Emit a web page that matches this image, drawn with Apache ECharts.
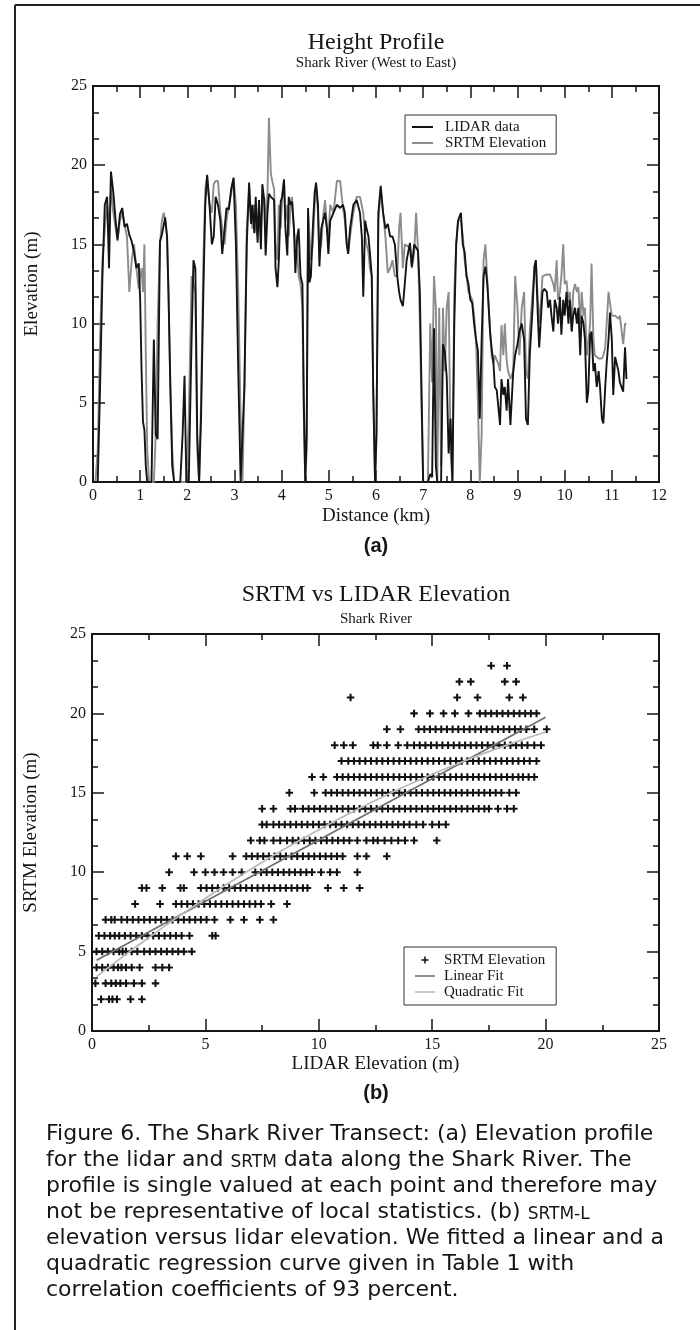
<!DOCTYPE html>
<html>
<head>
<meta charset="utf-8">
<script src="https://cdn.jsdelivr.net/npm/echarts@6/dist/echarts.min.js"></script>
<style>
html,body{margin:0;padding:0;background:#ffffff;}
#chart{width:700px;height:1330px;}
</style>
</head>
<body>
<div id="chart"></div>
<script>
// ---------------- (a) Height profile data ----------------
const distanceKm = [
  0.00,0.05,0.10,0.15,0.20,0.25,0.30,0.34,0.38,0.43,
  0.48,0.52,0.57,0.62,0.67,0.72,0.77,0.82,0.87,0.92,
  0.97,1.00,1.03,1.06,1.09,1.12,1.15,1.19,1.24,1.29,
  1.33,1.37,1.42,1.46,1.50,1.53,1.57,1.60,1.64,1.68,
  1.72,1.78,1.85,1.90,1.94,1.98,2.03,2.09,2.13,2.17,
  2.21,2.25,2.29,2.34,2.38,2.42,2.47,2.52,2.56,2.60,
  2.65,2.70,2.74,2.79,2.83,2.88,2.93,2.98,3.03,3.08,
  3.13,3.17,3.21,3.26,3.31,3.35,3.38,3.42,3.45,3.49,
  3.52,3.56,3.59,3.63,3.66,3.70,3.73,3.77,3.80,3.84,
  3.87,3.91,3.94,3.98,4.01,4.05,4.08,4.12,4.15,4.19,
  4.22,4.26,4.29,4.33,4.36,4.40,4.44,4.47,4.50,4.53,
  4.56,4.59,4.62,4.66,4.70,4.73,4.77,4.80,4.84,4.88,
  4.92,4.96,4.99,5.03,5.10,5.17,5.24,5.30,5.34,5.38,
  5.41,5.45,5.52,5.59,5.66,5.70,5.73,5.77,5.80,5.84,
  5.87,5.91,5.94,5.98,6.01,6.05,6.10,6.15,6.20,6.25,
  6.30,6.35,6.40,6.45,6.49,6.52,6.57,6.61,6.65,6.72,
  6.76,6.81,6.85,6.89,6.93,6.97,7.00,7.05,7.10,7.15,
  7.19,7.23,7.27,7.30,7.34,7.38,7.42,7.46,7.50,7.54,
  7.58,7.62,7.66,7.70,7.74,7.80,7.84,7.88,7.92,7.96,
  8.00,8.04,8.08,8.12,8.16,8.20,8.24,8.28,8.32,8.36,
  8.39,8.42,8.45,8.49,8.52,8.56,8.59,8.63,8.66,8.70,
  8.73,8.77,8.80,8.85,8.91,8.95,9.00,9.04,9.09,9.14,
  9.18,9.22,9.26,9.32,9.36,9.39,9.43,9.46,9.51,9.53,
  9.57,9.62,9.65,9.69,9.72,9.76,9.79,9.83,9.86,9.90,
  9.93,9.97,10.00,10.04,10.08,10.11,10.15,10.18,10.22,10.26,
  10.29,10.33,10.36,10.40,10.43,10.47,10.50,10.54,10.57,10.61,
  10.64,10.68,10.72,10.75,10.79,10.82,10.86,10.89,10.93,10.96,
  11.00,11.03,11.07,11.10,11.14,11.17,11.21,11.24,11.28,11.31
];
const lidarProfile = [
  0,0,0,6,13,17.5,18,13.5,19.6,18.3,
  16.5,15.3,16.9,17.3,16.1,16.3,15.6,15.2,14.5,13.5,
  13.8,11.5,7,3.8,3.3,1,0,0,0,9,
  3,2.7,15.2,15.6,15.5,16.7,15.5,12,6,1,
  0,0,0,3,6.7,0,0,9,14,13.5,
  3,0,4,12,17.5,19.4,17.5,15,15.5,18,
  17.5,16.5,14.4,16,17.3,17.2,18.5,19.2,15,7,
  0,0,6,15,18.9,16.3,17.5,15.7,18,15.1,
  17.8,14.7,18.8,17.8,14.3,17,18.2,18,18,17.8,
  13.5,12.3,14,17.7,18,19.1,16,14.3,18,17.5,
  17.7,16,13.2,15.5,16,13,12.5,5,0,3,
  17.3,12.6,13,16,18.3,18.9,17.5,13.6,16,16.5,
  17,16,14.4,16.5,17,17.5,17.3,17.5,17,15,
  14.4,16,17.5,17.8,17,15.5,11.7,16.5,16,15.5,
  14.5,13,6,0,3,17,18.7,17,16,16.3,
  15.5,15.5,15,13,12,11.5,11.1,12.5,14,15.1,
  13.6,15,15,14.6,12,5,0,0,0,0.5,
  0.3,9.7,1,0,0,0,8.7,8.2,6.6,1.8,
  4,0,10,15,16.5,17,15,14.5,13,12.5,
  11.5,11.3,10,9,8.3,4,9,13,13.6,12.5,
  11,9.4,8.5,7.5,6,5.8,5.7,3.6,6.5,5.5,
  6,4.5,6.5,3.6,7,8,8.7,9.5,10,9,
  4,3.6,8,11,13.6,14,10.6,8.5,11,12,
  12.2,12,11,11.5,10.5,9.5,11.5,11,10,11.7,
  9.3,11.5,10.5,12,10,11.5,9.5,10.5,11,10,
  11,8,10.5,10,9,5,5.7,9.3,9.5,7,
  7.5,6,7,6,4,3.7,6,7.5,9,10.7,
  9,5.5,7.9,7.8,7,6.3,6.2,5.7,8.5,6.5
];
const srtmProfile = [
  0,0,2,9,14,16,17.5,16,18.5,17,
  16,15.2,16.5,17,16.2,15.5,12,14,15,13.5,
  12.2,13,13.5,12,15,8,2,0,0,0,
  3,10,15,16.5,17,16.5,15.5,12,6,2,
  0,0,0,0,0,0,4,13,13,12,
  2,0,5,14,18.5,19.3,17.5,17,18.8,19,
  19,17,16,15,16.5,17.5,18.2,19.2,17.5,12,
  4,0,6,16,18.5,17,16,17.5,16,15.5,
  17,16,17.5,18,16,18.3,23,19.5,19,18.5,
  15,14,17.5,16,18,19,16.5,17.5,15.5,17.5,
  18,16,15,14.5,13,12.5,11,4,0,2,
  17,15.5,14,15,17.5,18.7,17,14.5,15,16.8,
  17.8,16,15.5,17.5,17,19,19,17.3,16.5,15,
  14.5,15.5,17,18,18,18,17,15.5,15,14.5,
  13.5,13,6,0,3,16.5,18.5,17,15.5,13.2,
  13.5,14,13,13,16,17,13.5,15,15,14.8,
  13.5,14.5,17,14.7,10,4,0,0,0,10,
  6.3,13,11,0,11,1,11,7,11,12,
  2,0,12,15,16.5,16.5,15.5,14,13,12,
  12,11.5,10.5,9,5,0,3,14,15,15,
  11,9.5,8,7.5,8,7.7,7.5,7,9.9,8,
  10,7.7,7,6.5,7,13,11,8,11,12,
  7,6.5,9.5,12,13.5,14,11.5,10,12,13,
  13.1,13.1,13.1,13.1,13.1,12.5,12,14,11.5,12,
  13,15,12.5,12.7,11.3,12,9.5,12,12.5,12,
  12.3,10,12,10.5,11,8,8,10,13.8,9,
  8,8,7.8,7.8,7.8,8,8.5,10,12,11.3,
  10.5,10.5,10.5,10.5,10.3,10.5,9.5,8.7,10,10
];

// ---------------- (b) SRTM vs LIDAR scatter data ----------------
// SRTM elevations are integer-valued rows; each row lists the LIDAR elevations
const srtmLevels = [2,3,4,5,6,7,8,9,10,11,12,13,14,15,16,17,18,19,20,21,22,23];
const lidarAtLevel = [
  [0.4,0.75,0.9,1.1,1.7,2.2],
  [0.15,0.6,0.85,1.05,1.25,1.5,1.85,2.2,2.8],
  [0.2,0.45,0.7,0.95,1.15,1.3,1.5,1.75,2.1,2.8,3.1,3.4],
  [0.2,0.45,0.7,0.95,1.2,1.35,1.5,1.75,2.0,2.3,2.55,2.8,3.05,3.3,3.55,3.8,4.05,4.4],
  [0.3,0.55,0.8,1.0,1.2,1.45,1.7,1.95,2.2,2.45,2.7,2.95,3.2,3.45,3.7,3.95,4.3,5.3,5.45],
  [0.6,0.85,1.0,1.3,1.55,1.8,2.05,2.3,2.55,2.8,3.05,3.3,3.55,3.8,4.05,4.3,4.55,4.8,5.05,5.4,6.1,6.7,7.4,8.0],
  [1.9,3.0,3.7,3.95,4.2,4.45,4.7,4.95,5.2,5.45,5.7,5.95,6.2,6.45,6.7,6.95,7.2,7.45,7.9,8.6],
  [2.2,2.4,3.1,3.9,4.05,4.8,5.05,5.3,5.55,5.8,6.05,6.3,6.55,6.8,7.05,7.3,7.55,7.8,8.05,8.3,8.55,8.8,9.05,9.3,9.5,10.4,11.1,11.8],
  [3.4,4.5,5.0,5.4,5.8,6.2,6.6,7.2,7.45,7.7,7.95,8.2,8.45,8.7,8.95,9.2,9.45,9.7,10.1,10.5,10.8,11.7],
  [3.7,4.2,4.8,6.2,6.8,7.05,7.3,7.55,7.8,8.05,8.3,8.55,8.8,9.05,9.3,9.55,9.8,10.05,10.3,10.55,10.8,11.05,11.7,12.1,13.0],
  [7.0,7.4,7.6,8.0,8.3,8.6,8.85,9.1,9.35,9.6,9.85,10.1,10.35,10.6,10.85,11.1,11.35,11.7,12.1,12.4,12.6,12.9,13.2,13.5,13.8,14.2,15.2],
  [7.5,7.7,8.0,8.25,8.5,8.75,9.0,9.25,9.5,9.75,10.0,10.25,10.5,10.75,11.0,11.25,11.5,11.75,12.0,12.25,12.5,12.75,13.0,13.25,13.5,13.75,14.0,14.3,14.6,15.0,15.3,15.6],
  [7.5,8.0,8.75,8.95,9.3,9.55,9.8,10.05,10.3,10.55,10.8,11.05,11.3,11.55,11.8,12.05,12.3,12.55,12.8,13.05,13.3,13.55,13.8,14.05,14.3,14.55,14.8,15.05,15.3,15.55,15.8,16.05,16.3,16.55,16.8,17.05,17.3,17.5,17.9,18.3,18.6],
  [8.7,9.8,10.3,10.55,10.8,11.05,11.3,11.55,11.8,12.05,12.3,12.55,12.8,13.05,13.3,13.55,13.8,14.05,14.3,14.55,14.8,15.05,15.3,15.55,15.8,16.05,16.3,16.55,16.8,17.05,17.3,17.55,17.8,18.05,18.4,18.7],
  [9.7,10.2,10.8,11.05,11.3,11.55,11.8,12.05,12.3,12.55,12.8,13.05,13.3,13.55,13.8,14.05,14.3,14.55,14.8,15.05,15.3,15.55,15.8,16.05,16.3,16.55,16.8,17.05,17.3,17.55,17.8,18.05,18.3,18.55,18.8,19.0,19.25,19.5],
  [11.0,11.3,11.55,11.8,12.05,12.3,12.55,12.8,13.05,13.3,13.55,13.8,14.05,14.3,14.55,14.8,15.05,15.3,15.55,15.8,16.05,16.3,16.55,16.8,17.05,17.3,17.55,17.8,18.05,18.3,18.55,18.8,19.05,19.3,19.6],
  [10.7,11.1,11.5,12.4,12.6,13.0,13.5,13.9,14.2,14.45,14.7,14.95,15.2,15.45,15.7,15.95,16.2,16.45,16.7,16.95,17.2,17.45,17.7,17.95,18.2,18.45,18.7,18.95,19.2,19.5,19.8],
  [13.0,13.6,14.4,14.65,14.9,15.15,15.4,15.65,15.9,16.15,16.4,16.65,16.9,17.15,17.4,17.65,17.9,18.15,18.4,18.65,18.9,19.15,19.5,20.05],
  [14.2,14.9,15.5,16.0,16.6,17.1,17.35,17.6,17.85,18.1,18.35,18.6,18.85,19.1,19.35,19.6],
  [11.4,16.1,17.0,18.4,19.0],
  [16.2,16.7,18.2,18.7],
  [17.6,18.3]
];
// Regression curves as drawn in the figure
const linearFitX = [0.2, 20];
const linearFitY = [4.45, 19.75];
const quadFitX = [0.2, 2, 4, 6, 8, 10, 12, 14, 16, 18, 20];
const quadFitY = [3.42, 5.36, 7.39, 9.29, 11.05, 12.68, 14.17, 15.54, 16.77, 17.86, 18.83];

const captionLines = [
  'Figure 6. The Shark River Transect: (a) Elevation profile',
  'for the lidar and {sc|SRTM} data along the Shark River. The',
  'profile is single valued at each point and therefore may',
  'not be representative of local statistics. (b) {sc|SRTM-L}',
  'elevation versus lidar elevation. We fitted a linear and a',
  'quadratic regression curve given in Table 1 with',
  'correlation coefficients of 93 percent.'
];

// ---------------- build ----------------
const serif = "'Liberation Serif','Times New Roman',serif";
const sans = "'DejaVu Sans','Liberation Sans',sans-serif";
const ink = '#161616';

const profileLidar = distanceKm.map((d, i) => [d, lidarProfile[i]]);
const profileSrtm = distanceKm.map((d, i) => [d, srtmProfile[i]]);
const scatterPts = [];
lidarAtLevel.forEach((row, i) => row.forEach(x => scatterPts.push([x, srtmLevels[i]])));
const linearFit = linearFitX.map((x, i) => [x, linearFitY[i]]);
const quadFit = quadFitX.map((x, i) => [x, quadFitY[i]]);

function axis(grid, pos, max, interval, minorSplit, showLabel, name, nameGap) {
  return {
    type: 'value', gridIndex: grid, position: pos, min: 0, max: max, interval: interval,
    splitLine: {show: false},
    axisLine: {show: true, onZero: false, lineStyle: {color: ink, width: 2}},
    axisTick: {show: true, inside: true, length: 12, lineStyle: {color: ink, width: 1.5}},
    minorTick: {show: true, splitNumber: minorSplit, length: 6, lineStyle: {color: ink, width: 1.5}},
    axisLabel: {show: showLabel, color: ink, fontFamily: serif, fontSize: 16, margin: 6},
    name: name || '', nameLocation: 'middle', nameGap: nameGap || 0,
    nameTextStyle: {fontFamily: serif, fontSize: 19, color: ink}
  };
}

const plusIcon = 'path://M-6.5,0.5h0.01v0.01h-0.01z M13.5,0.5h0.01v0.01h-0.01z M2.75,0h1.5v2.75h2.75v1.5h-2.75v2.75h-1.5v-2.75h-2.75v-1.5h2.75z';
const lineIcon = 'path://M0,0h0.01v0.01h-0.01z M0,6.99h0.01v0.01h-0.01z M0,2.7h20v1.6h-20z';

const graphics = [
  {type: 'line', silent: true, shape: {x1: 15, y1: 5, x2: 700, y2: 5}, style: {stroke: '#222', lineWidth: 2}},
  {type: 'line', silent: true, shape: {x1: 15, y1: 5, x2: 15, y2: 1330}, style: {stroke: '#222', lineWidth: 2}},
  {type: 'text', x: 376, y: 43, style: {text: 'Height Profile', fontFamily: serif, fontSize: 24, fill: ink, align: 'center', verticalAlign: 'middle'}},
  {type: 'text', x: 376, y: 63, style: {text: 'Shark River (West to East)', fontFamily: serif, fontSize: 15, fill: ink, align: 'center', verticalAlign: 'middle'}},
  {type: 'text', x: 376, y: 546, style: {text: '(a)', fontFamily: "'Liberation Sans',Arial,sans-serif", fontWeight: 'bold', fontSize: 20, fill: ink, align: 'center', verticalAlign: 'middle'}},
  {type: 'text', x: 376, y: 595, style: {text: 'SRTM vs LIDAR Elevation', fontFamily: serif, fontSize: 24, fill: ink, align: 'center', verticalAlign: 'middle'}},
  {type: 'text', x: 376, y: 619, style: {text: 'Shark River', fontFamily: serif, fontSize: 15, fill: ink, align: 'center', verticalAlign: 'middle'}},
  {type: 'text', x: 376, y: 1093, style: {text: '(b)', fontFamily: "'Liberation Sans',Arial,sans-serif", fontWeight: 'bold', fontSize: 20, fill: ink, align: 'center', verticalAlign: 'middle'}}
];
captionLines.forEach((t, i) => {
  graphics.push({
    type: 'text', x: 46, y: 1134 + 26 * i,
    style: {
      text: t, fontFamily: sans, fontSize: 22, fill: ink, align: 'left', verticalAlign: 'middle',
      rich: {sc: {fontFamily: sans, fontSize: 17, fill: ink, verticalAlign: 'bottom'}}
    }
  });
});

const option = {
  animation: false,
  backgroundColor: '#ffffff',
  grid: [
    {left: 93, top: 86, width: 566, height: 396},
    {left: 92, top: 634, width: 567, height: 397}
  ],
  xAxis: [
    axis(0, 'bottom', 12, 1, 2, true, 'Distance (km)', 25),
    axis(0, 'top', 12, 1, 2, false),
    axis(1, 'bottom', 25, 5, 2, true, 'LIDAR Elevation (m)', 24),
    axis(1, 'top', 25, 5, 2, false)
  ],
  yAxis: [
    axis(0, 'left', 25, 5, 3, true, 'Elevation (m)', 51),
    axis(0, 'right', 25, 5, 3, false),
    axis(1, 'left', 25, 5, 3, true, 'SRTM Elevation (m)', 51),
    axis(1, 'right', 25, 5, 3, false)
  ],
  legend: [
    {
      orient: 'vertical', left: 405, top: 115, itemGap: 0, itemWidth: 21, itemHeight: 2,
      padding: [4, 10, 3, 7], borderColor: '#333', borderWidth: 1, backgroundColor: '#fff',
      textStyle: {fontFamily: serif, fontSize: 15, color: ink, lineHeight: 16, padding: [0, 0, 0, 7]},
      data: [
        {name: 'LIDAR data', icon: 'rect', itemStyle: {color: '#141414'}},
        {name: 'SRTM Elevation', icon: 'rect', itemStyle: {color: '#8c8c8c'}}
      ]
    },
    {
      orient: 'vertical', left: 404, top: 947, itemGap: 0, itemWidth: 20, itemHeight: 7,
      padding: [5, 11, 5, 11], borderColor: '#333', borderWidth: 1, backgroundColor: '#fff',
      textStyle: {fontFamily: serif, fontSize: 15, color: ink, lineHeight: 16, padding: [0, 0, 0, 4]},
      formatter: n => (n === 'SRTM points' ? 'SRTM Elevation' : n),
      data: [
        {name: 'SRTM points', icon: plusIcon, itemStyle: {color: '#111'}},
        {name: 'Linear Fit', icon: lineIcon, itemStyle: {color: '#6e6e6e'}},
        {name: 'Quadratic Fit', icon: lineIcon, itemStyle: {color: '#b8b8b8'}}
      ]
    }
  ],
  series: [
    {
      name: 'SRTM Elevation', type: 'line', xAxisIndex: 0, yAxisIndex: 0, data: profileSrtm,
      symbol: 'none', showSymbol: false, color: '#8c8c8c', lineStyle: {color: '#8c8c8c', width: 1.9}, z: 2
    },
    {
      name: 'LIDAR data', type: 'line', xAxisIndex: 0, yAxisIndex: 0, data: profileLidar,
      symbol: 'none', showSymbol: false, color: '#141414', lineStyle: {color: '#141414', width: 1.9}, z: 3
    },
    {
      name: 'SRTM points', type: 'scatter', xAxisIndex: 2, yAxisIndex: 2, data: scatterPts,
      symbol: 'path://M2.9,0h2.2v2.9h2.9v2.2h-2.9v2.9h-2.2v-2.9h-2.9v-2.2h2.9z', symbolSize: 7.5,
      itemStyle: {color: '#111', opacity: 1}, z: 2
    },
    {
      name: 'Linear Fit', type: 'line', xAxisIndex: 2, yAxisIndex: 2, data: linearFit,
      symbol: 'none', showSymbol: false, color: '#6e6e6e', lineStyle: {color: '#6e6e6e', width: 1.7}, z: 4
    },
    {
      name: 'Quadratic Fit', type: 'line', xAxisIndex: 2, yAxisIndex: 2, data: quadFit, smooth: true,
      symbol: 'none', showSymbol: false, color: '#b8b8b8', lineStyle: {color: '#b8b8b8', width: 1.7}, z: 4
    }
  ],
  graphic: graphics
};

const chart = echarts.init(document.getElementById('chart'), null, {renderer: 'canvas', width: 700, height: 1330});
chart.setOption(option);
</script>
</body>
</html>
